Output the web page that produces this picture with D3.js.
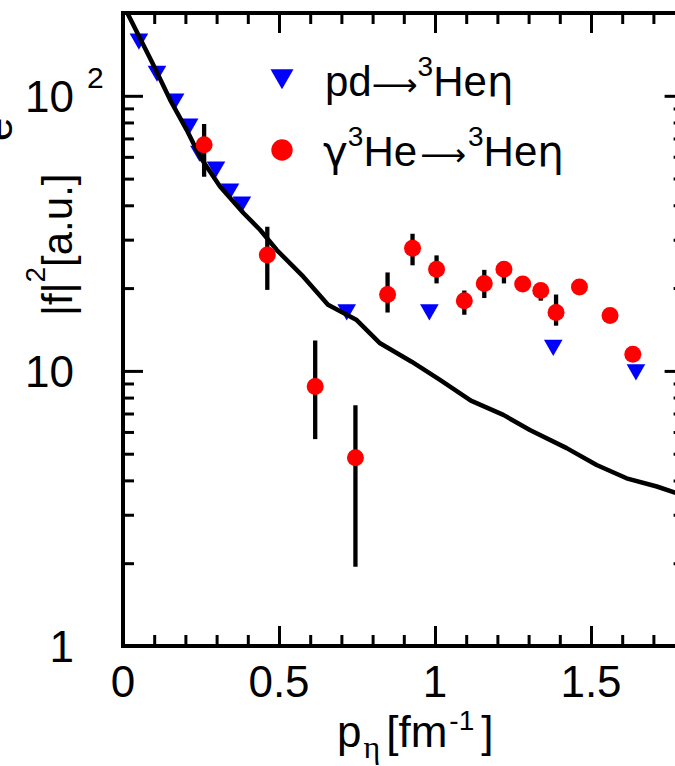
<!DOCTYPE html>
<html><head><meta charset="utf-8">
<script src="https://cdn.jsdelivr.net/npm/d3@7"></script>
<style>
html,body{margin:0;padding:0;background:#fff;}
svg{display:block;}
text{font-family:"Liberation Sans",Arial,sans-serif;fill:#000;}
</style></head>
<body>
<svg id="chart" width="675" height="766"></svg>
<script>
// ---- data ----
const pdX = [0.051, 0.109, 0.167, 0.212, 0.245, 0.298, 0.343, 0.381, 0.717, 0.982, 1.379, 1.644];
const pdY = [161, 123, 97.5, 79, 63, 55.2, 45.9, 41.2, 16.7, 16.7, 12.4, 10.1];

const gX  = [0.260, 0.4625, 0.616, 0.745, 0.848, 0.928, 1.005, 1.094, 1.158, 1.221, 1.281, 1.339, 1.388, 1.463, 1.561, 1.634];
const gY  = [66.4, 26.4, 8.77, 4.83, 18.95, 27.9, 23.4, 18.0, 20.8, 23.4, 20.7, 19.6, 16.3, 20.2, 15.9, 11.5];
const gHi = [79, 33.4, 12.9, 7.5, 22.8, 31.5, 26.3, 19.6, 23.3, 24.7, 20.7, 19.6, 18.95, 20.2, 15.9, 11.5];
const gLo = [50.8, 19.7, 5.65, 1.94, 16.3, 24.2, 20.8, 16.0, 18.4, 20.8, 20.7, 18.0, 14.6, 20.2, 15.9, 11.5];

const thX = [0.0, 0.092, 0.151, 0.204, 0.247, 0.311, 0.386, 0.439, 0.493, 0.578, 0.657, 0.749, 0.824, 0.925, 1.016, 1.115, 1.219, 1.304, 1.422, 1.518, 1.614, 1.711, 1.769, 1.8];
const thY = [215, 133.3, 96.7, 75.2, 60.1, 46.8, 37.5, 32.6, 27.5, 22.0, 17.4, 15.3, 12.6, 10.8, 9.27, 7.8, 6.92, 6.1, 5.24, 4.55, 4.07, 3.80, 3.61, 3.55];

const xMajor = [0, 0.5, 1, 1.5];
const xMajorLabels = ["0", "0.5", "1", "1.5"];
const xMinor = [0.1,0.2,0.3,0.4,0.6,0.7,0.8,0.9,1.1,1.2,1.3,1.4,1.6,1.7];
const yMajor = [1, 10, 100];
const yMinor = [2,3,4,5,6,7,8,9,20,30,40,50,60,70,80,90,200];

// ---- layout ----
const L = 123, R = 684.6, T = 13, B = 646;
const svg = d3.select("#chart");
const x = d3.scaleLinear().domain([0, 1.8]).range([L, R]);
const y = d3.scaleLog().domain([1, 200]).range([B, T]);

svg.append("defs").append("clipPath").attr("id","clip")
  .append("rect").attr("x",L).attr("y",T).attr("width",R-L).attr("height",B-T);

// axes (ticks inward)
function styleAxis(g){
  g.select(".domain").remove();
  g.selectAll(".tick line").attr("stroke","#000").attr("stroke-width",3);
  g.selectAll(".tick text").remove();
}
svg.append("g").attr("transform",`translate(0,${B})`)
  .call(d3.axisBottom(x).tickValues(xMajor).tickSizeInner(-20).tickSizeOuter(0)).call(styleAxis);
svg.append("g").attr("transform",`translate(0,${B})`)
  .call(d3.axisBottom(x).tickValues(xMinor).tickSizeInner(-11).tickSizeOuter(0)).call(styleAxis);
svg.append("g").attr("transform",`translate(0,${T})`)
  .call(d3.axisTop(x).tickValues(xMajor).tickSizeInner(-20).tickSizeOuter(0)).call(styleAxis);
svg.append("g").attr("transform",`translate(0,${T})`)
  .call(d3.axisTop(x).tickValues(xMinor).tickSizeInner(-11).tickSizeOuter(0)).call(styleAxis);
svg.append("g").attr("transform",`translate(${L},0)`)
  .call(d3.axisLeft(y).tickValues(yMajor).tickSizeInner(-20).tickSizeOuter(0)).call(styleAxis);
svg.append("g").attr("transform",`translate(${L},0)`)
  .call(d3.axisLeft(y).tickValues(yMinor).tickSizeInner(-11).tickSizeOuter(0)).call(styleAxis);
svg.append("g").attr("transform",`translate(${R},0)`)
  .call(d3.axisRight(y).tickValues(yMajor).tickSizeInner(-20).tickSizeOuter(0)).call(styleAxis);
svg.append("g").attr("transform",`translate(${R},0)`)
  .call(d3.axisRight(y).tickValues(yMinor).tickSizeInner(-11).tickSizeOuter(0)).call(styleAxis);

// frame
svg.append("rect").attr("x",L).attr("y",T).attr("width",R-L).attr("height",B-T)
  .attr("fill","none").attr("stroke","#000").attr("stroke-width",4);

// tick labels
svg.append("g").selectAll("text").data(xMajor).join("text")
  .attr("x",d=>x(d)).attr("y",B+51).attr("text-anchor","middle")
  .attr("font-size",44).text((d,i)=>xMajorLabels[i]);
const yl = svg.append("g");
yl.append("text").attr("x",74).attr("y",y(1)+16).attr("text-anchor","end").attr("font-size",44).text("1");
yl.append("text").attr("x",74).attr("y",y(10)+16).attr("text-anchor","end").attr("font-size",44).text("10");
yl.append("text").attr("x",74).attr("y",y(100)+16).attr("text-anchor","end").attr("font-size",44).text("10");
yl.append("text").attr("x",87).attr("y",y(100)-8).attr("font-size",30).text("2");

// axis titles
const xt = svg.append("text").attr("x",337).attr("y",747).attr("font-size",44);
xt.append("tspan").text("p");
xt.append("tspan").attr("font-size",32).attr("dy",11).attr("dx",2).attr("font-family","Liberation Serif").text("η");
xt.append("tspan").attr("dy",-11).attr("dx",6).text("[fm");
xt.append("tspan").attr("font-size",28).attr("dy",-17).attr("dx",2).text("-1");
xt.append("tspan").attr("dy",17).attr("dx",7).text("]");

const yt = svg.append("text").attr("transform","translate(72,316) rotate(-90)").attr("font-size",42);
yt.append("tspan").text("|f|");
yt.append("tspan").attr("font-size",28).attr("dy",-27).text("2");
yt.append("tspan").attr("dy",27).text("[a.u.]");

// cut-off text at far left (as in the reference)
svg.append("text").attr("transform","translate(12,141) rotate(-90)").attr("font-size",42).text("e");

// ---- marks ----
const plot = svg.append("g").attr("clip-path","url(#clip)");
const tri = d3.symbol().type(d3.symbolTriangle).size(150);
plot.append("g").selectAll("path").data(pdX).join("path")
  .attr("d",tri).attr("fill","#0000ff")
  .attr("transform",(d,i)=>`translate(${x(d)},${y(pdY[i])}) rotate(180)`);

const line = d3.line().x((d,i)=>x(thX[i])).y((d,i)=>y(thY[i]));
plot.append("path").datum(thX).attr("d",line).attr("fill","none")
  .attr("stroke","#000").attr("stroke-width",4.5).attr("stroke-linejoin","round");

plot.append("g").selectAll("line").data(gX).join("line")
  .attr("x1",d=>x(d)).attr("x2",d=>x(d))
  .attr("y1",(d,i)=>y(gHi[i])).attr("y2",(d,i)=>y(gLo[i]))
  .attr("stroke","#000").attr("stroke-width",4.3);
plot.append("g").selectAll("circle").data(gX).join("circle")
  .attr("cx",d=>x(d)).attr("cy",(d,i)=>y(gY[i])).attr("r",8.5).attr("fill","#ff0000");

// ---- legend ----
const arrowFont = "DejaVu Sans";
const greekFont = "DejaVu Sans";
const lg = svg.append("g");
lg.append("path").attr("d",d3.symbol().type(d3.symbolTriangle).size(230)())
  .attr("fill","#0000ff").attr("transform","translate(282,76) rotate(180)");
lg.append("circle").attr("cx",282).attr("cy",150).attr("r",10.7).attr("fill","#ff0000");
const t1 = lg.append("text").attr("x",325).attr("y",96).attr("font-size",42);
t1.append("tspan").text("pd");
t1.append("tspan").attr("font-family",arrowFont).attr("font-size",32).text("⟶");
t1.append("tspan").attr("font-size",28).attr("dy",-20).text("3");
t1.append("tspan").attr("dy",20).text("He");
t1.append("tspan").attr("font-family",greekFont).attr("font-size",42).text("η");
const t2 = lg.append("text").attr("x",323).attr("y",166).attr("font-size",42);
t2.append("tspan").attr("font-family",greekFont).text("γ");
t2.append("tspan").attr("font-size",28).attr("dy",-20).text("3");
t2.append("tspan").attr("dy",20).text("He");
t2.append("tspan").attr("font-family",arrowFont).attr("font-size",32).attr("dx",3).text("⟶");
t2.append("tspan").attr("font-size",28).attr("dy",-20).attr("dx",2).text("3");
t2.append("tspan").attr("dy",20).text("He");
t2.append("tspan").attr("font-family",greekFont).attr("font-size",42).text("η");
</script>
</body></html>
